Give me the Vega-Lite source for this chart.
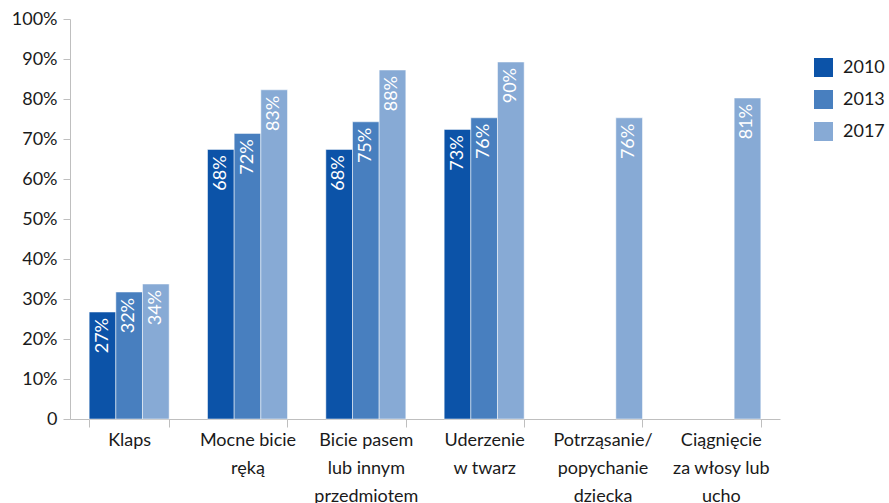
{
  "$schema": "https://vega.github.io/schema/vega-lite/v6.json",
  "width": 710,
  "height": 400,
  "autosize": {"type": "none"},
  "padding": {"left": 70, "top": 19, "right": 109, "bottom": 84},
  "config": {"view": {"stroke": null}, "font": "Lato"},
  "data": {
    "values": [
      {"category": "Klaps", "year": "2010", "value": 26.75, "label": "27%"},
      {"category": "Klaps", "year": "2013", "value": 31.75, "label": "32%"},
      {"category": "Klaps", "year": "2017", "value": 33.75, "label": "34%"},
      {"category": "Mocne bicie ręką", "year": "2010", "value": 67.4, "label": "68%"},
      {"category": "Mocne bicie ręką", "year": "2013", "value": 71.4, "label": "72%"},
      {"category": "Mocne bicie ręką", "year": "2017", "value": 82.3, "label": "83%"},
      {"category": "Bicie pasem lub innym przedmiotem", "year": "2010", "value": 67.4, "label": "68%"},
      {"category": "Bicie pasem lub innym przedmiotem", "year": "2013", "value": 74.3, "label": "75%"},
      {"category": "Bicie pasem lub innym przedmiotem", "year": "2017", "value": 87.25, "label": "88%"},
      {"category": "Uderzenie w twarz", "year": "2010", "value": 72.4, "label": "73%"},
      {"category": "Uderzenie w twarz", "year": "2013", "value": 75.3, "label": "76%"},
      {"category": "Uderzenie w twarz", "year": "2017", "value": 89.25, "label": "90%"},
      {"category": "Potrząsanie/popychanie dziecka", "year": "2017", "value": 75.3, "label": "76%"},
      {"category": "Ciągnięcie za włosy lub ucho", "year": "2017", "value": 80.25, "label": "81%"}
    ]
  },
  "encoding": {
    "x": {
      "field": "category",
      "type": "nominal",
      "sort": null,
      "scale": {"paddingInner": 0.324, "paddingOuter": 0.162},
      "axis": {
        "title": null,
        "labelAngle": 0,
        "tickBand": "extent",
        "tickSize": 8,
        "domainColor": "#bfbfbf",
        "tickColor": "#bfbfbf",
        "labelFontSize": 18,
        "labelColor": "#1a1a1a",
        "labelLineHeight": 28,
        "labelPadding": 4,
        "labelExpr": "datum.label == 'Mocne bicie ręką' ? ['Mocne bicie', 'ręką'] : datum.label == 'Bicie pasem lub innym przedmiotem' ? ['Bicie pasem', 'lub innym', 'przedmiotem'] : datum.label == 'Uderzenie w twarz' ? ['Uderzenie', 'w twarz'] : datum.label == 'Potrząsanie/popychanie dziecka' ? ['Potrząsanie/', 'popychanie', 'dziecka'] : datum.label == 'Ciągnięcie za włosy lub ucho' ? ['Ciągnięcie', 'za włosy lub', 'ucho'] : datum.label"
      }
    },
    "xOffset": {
      "field": "year",
      "type": "nominal",
      "scale": {"domain": ["2010", "2013", "2017"], "paddingInner": 0, "paddingOuter": 0}
    },
    "y": {
      "field": "value",
      "type": "quantitative",
      "scale": {"domain": [0, 100]},
      "axis": {
        "title": null,
        "grid": false,
        "values": [0, 10, 20, 30, 40, 50, 60, 70, 80, 90, 100],
        "labelExpr": "datum.value == 0 ? '0' : datum.value + '%'",
        "domainColor": "#bfbfbf",
        "tickColor": "#bfbfbf",
        "tickSize": 7,
        "labelFontSize": 18,
        "labelColor": "#1a1a1a",
        "labelPadding": 6
      }
    }
  },
  "layer": [
    {
      "mark": {"type": "bar", "stroke": "#ffffff", "strokeWidth": 1, "strokeOpacity": 0.5},
      "encoding": {
        "color": {
          "field": "year",
          "type": "nominal",
          "scale": {"domain": ["2010", "2013", "2017"], "range": ["#0c53a8", "#487fbf", "#87aad5"]},
          "legend": {
            "orient": "none",
            "legendX": 744,
            "legendY": 39,
            "title": null,
            "symbolType": "square",
            "symbolSize": 361,
            "symbolStrokeWidth": 0,
            "labelFontSize": 18,
            "labelColor": "#1a1a1a",
            "rowPadding": 13,
            "labelOffset": 10
          }
        }
      }
    },
    {
      "mark": {"type": "text", "angle": 270, "align": "right", "baseline": "middle", "dx": -6, "color": "#ffffff", "fontSize": 18},
      "encoding": {"text": {"field": "label"}}
    }
  ]
}
